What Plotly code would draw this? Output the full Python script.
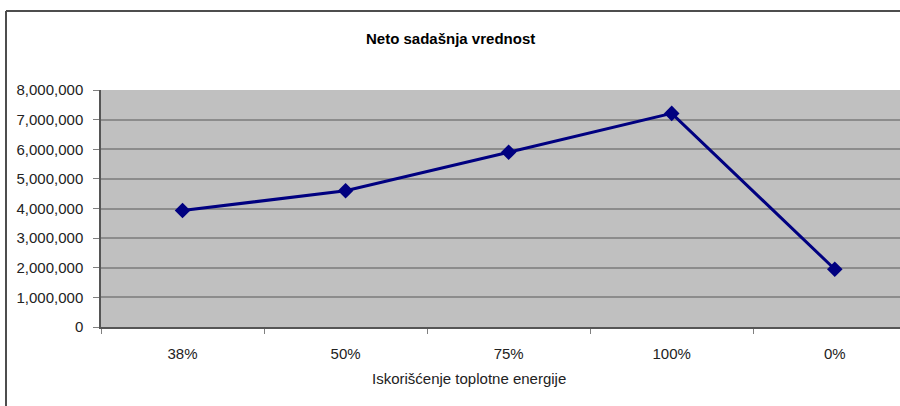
import plotly.graph_objects as go

categories = ["38%", "50%", "75%", "100%", "0%"]
npv_values = [3930000, 4600000, 5900000, 7210000, 1950000]
y_tick_values = [0, 1000000, 2000000, 3000000, 4000000, 5000000, 6000000, 7000000, 8000000]
y_tick_labels = ["0", "1,000,000", "2,000,000", "3,000,000", "4,000,000",
                 "5,000,000", "6,000,000", "7,000,000", "8,000,000"]

font_family = "Liberation Sans, Arial, sans-serif"

fig = go.Figure()
fig.add_trace(
    go.Scatter(
        x=categories,
        y=npv_values,
        mode="lines+markers",
        line=dict(color="#000080", width=3),
        marker=dict(symbol="diamond", size=12, color="#000080"),
        showlegend=False,
    )
)

# outer chart frame (left and top edges visible, rest cropped)
fx = (6 - 101) / 799
fy = (327 - 11) / 237
frame = dict(color="#4d4d4d", width=2)
fig.add_shape(type="line", xref="paper", yref="paper", x0=fx, x1=fx, y0=-0.5, y1=fy, line=frame)
fig.add_shape(type="line", xref="paper", yref="paper", x0=fx, x1=1.2, y0=fy, y1=fy, line=frame)

fig.add_annotation(
    text="<b>Neto sadašnja vrednost</b>", xref="paper", yref="paper",
    x=(450 - 101) / 799, y=(327 - 39) / 237, xanchor="center", yanchor="middle",
    showarrow=False, font=dict(size=15, color="#000000", family=font_family),
)
fig.add_annotation(
    text="Iskorišćenje toplotne energije", xref="paper", yref="paper",
    x=(469 - 101) / 799, y=(327 - 378) / 237, xanchor="center", yanchor="middle",
    showarrow=False, font=dict(size=15, color="#222222", family=font_family),
)

fig.update_layout(
    width=900,
    height=406,
    margin=dict(l=101, r=0, t=90, b=79),
    paper_bgcolor="white",
    plot_bgcolor="#c0c0c0",
    font=dict(family=font_family, size=15, color="#222222"),
    xaxis=dict(
        type="category",
        range=[-0.5, 4.4],
        tickson="boundaries",
        ticks="outside",
        ticklen=5,
        tickcolor="#808080",
        showline=True,
        linecolor="#555555",
        linewidth=1.5,
        showgrid=False,
        ticklabelstandoff=12,
        fixedrange=True,
    ),
    yaxis=dict(
        range=[0, 8000000],
        tickvals=y_tick_values,
        ticktext=y_tick_labels,
        ticks="outside",
        ticklen=6,
        tickcolor="#808080",
        showline=True,
        linecolor="#555555",
        linewidth=1.5,
        gridcolor="#8c8c8c",
        gridwidth=1.5,
        zeroline=False,
        ticklabelstandoff=7,
        fixedrange=True,
    ),
)

fig.write_html(
    "out.html",
    config={"displayModeBar": False},
    post_script=(
        "document.body.style.margin='0';"
        "document.body.style.overflow='hidden';"
        "document.documentElement.style.overflow='hidden';"
    ),
)
